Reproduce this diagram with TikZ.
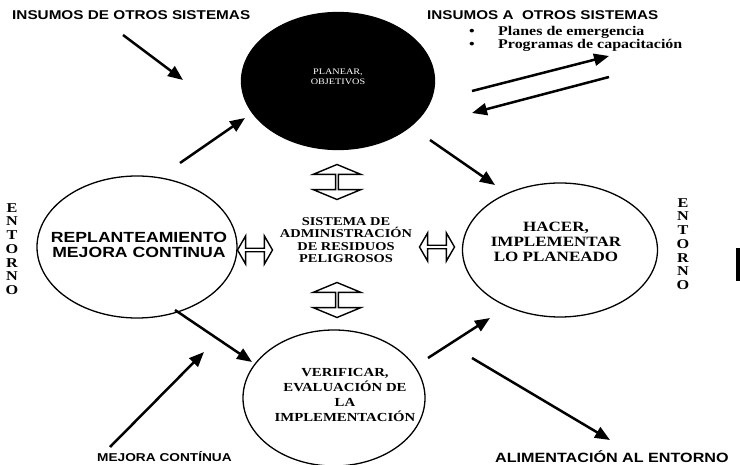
\documentclass[tikz,border=0pt]{standalone}
\usepackage{fontspec}
\setmainfont{Liberation Serif}[FakeStretch=1.2]
\newfontfamily\widesans{Liberation Sans}[FakeStretch=1.2]
\usetikzlibrary{arrows.meta,shapes.geometric,shapes.arrows}
\newcommand{\fsz}[2]{\fontsize{#1}{#2}\selectfont}

\begin{document}
\begin{tikzpicture}[x=1pt,y=-1pt,
  cycle/.style={draw,ellipse,line width=1.3pt,inner sep=0pt},
  flow/.style={-{Triangle[length=15pt,width=12pt]},line width=2.5pt},
  hollow/.style={draw,double arrow,line width=1.4pt,inner sep=0pt,minimum height=35pt},
  sanslbl/.style={inner sep=0pt,align=center,font=\widesans\bfseries\fsz{#1}{15}},
  seriflbl/.style={inner sep=0pt,align=center,font=\bfseries\fsz{#1}{14.7}}]
  \useasboundingbox (0,0) rectangle (740,465);
  % the four stages of the cycle
  \node[cycle,fill=black,minimum width=193pt,minimum height=137pt] (plan) at (338,81) {};
  \node[cycle,minimum width=200pt,minimum height=142pt] (actuar) at (137,247) {};
  \node[cycle,minimum width=195pt,minimum height=134pt] (hacer) at (560,250) {};
  \node[cycle,minimum width=182pt,minimum height=136pt] (verificar) at (334,398) {};
  \node[inner sep=0pt,align=center,text=white,font=\fsz{8.5}{10}] (tplan) at (338,77) {PLANEAR,\\OBJETIVOS};
  \node[sanslbl=14.7] (tactuar) at (139,245) {REPLANTEAMIENTO\\MEJORA CONTINUA};
  \node[seriflbl=14.2] (thacer) at (556,242) {HACER,\\IMPLEMENTAR\\LO PLANEADO};
  \node[seriflbl=12.3] (tverif) at (345,395) {VERIFICAR,\\EVALUACI\'ON DE\\LA\\IMPLEMENTACI\'ON};
  % the system in the middle
  \node[inner sep=0pt,align=center,font=\bfseries\fsz{12}{12.5}] (sistema) at (346,240)
       {SISTEMA DE\\ADMINISTRACI\'ON\\DE RESIDUOS\\PELIGROSOS};
  \node[hollow,rotate=90,minimum width=48pt,double arrow head extend=11.5pt,double arrow tip angle=135] (hup) at (337,182) {};
  \node[hollow,rotate=90,minimum width=48pt,double arrow head extend=11.5pt,double arrow tip angle=135] (hdown) at (337,300) {};
  \node[hollow,minimum width=28pt,double arrow head extend=5pt,double arrow tip angle=120] (hleft) at (255,250) {};
  \node[hollow,minimum width=28pt,double arrow head extend=5pt,double arrow tip angle=120] (hright) at (437,247) {};
  % environment
  \node[inner sep=0pt,align=center,font=\bfseries\fsz{13.5}{13.7}] (envl) at (12,249) {E\\N\\T\\O\\R\\N\\O};
  \node[inner sep=0pt,align=center,font=\bfseries\fsz{13.5}{13.7}] (envr) at (683,244) {E\\N\\T\\O\\R\\N\\O};
  \fill (736,248) rectangle (740,281);
  % outer labels
  \node[sanslbl=12.75,anchor=west] (inde) at (12,15) {INSUMOS DE OTROS SISTEMAS};
  \node[sanslbl=12.7,anchor=west] (ina) at (427,15) {INSUMOS A\ \ OTROS SISTEMAS};
  \node[seriflbl=13.3] (b1) at (472,32) {\textbullet};
  \node[seriflbl=13.3] (b2) at (472,45) {\textbullet};
  \node[seriflbl=13.3,anchor=west] (planes) at (498,32) {Planes de emergencia};
  \node[seriflbl=13.3,anchor=west] (progr) at (498,45) {Programas de capacitaci\'on};
  \node[sanslbl=11.4,anchor=west] (mejora) at (97,457) {MEJORA CONT\'INUA};
  \node[sanslbl=13.45,anchor=west] (alim) at (495,457) {ALIMENTACI\'ON AL ENTORNO};
  % arrow end points
  \coordinate (a1s) at (123,35);  \coordinate (a1e) at (183,80);
  \coordinate (a2s) at (180,163); \coordinate (a2e) at (245,118);
  \coordinate (a3s) at (430,140); \coordinate (a3e) at (495,185);
  \coordinate (a4s) at (472,91);  \coordinate (a4e) at (609,56);
  \coordinate (a5s) at (609,77);  \coordinate (a5e) at (472,113);
  \coordinate (a6s) at (175,310); \coordinate (a6e) at (252,362);
  \coordinate (a7s) at (110,447); \coordinate (a7e) at (204,352);
  \coordinate (a8s) at (428,358); \coordinate (a8e) at (490,318);
  \coordinate (a9s) at (472,358); \coordinate (a9e) at (610,440);
  \foreach \k in {1,...,9}{
    \draw[flow] (a\k s) -- (a\k e);
  }
\end{tikzpicture}
\end{document}
